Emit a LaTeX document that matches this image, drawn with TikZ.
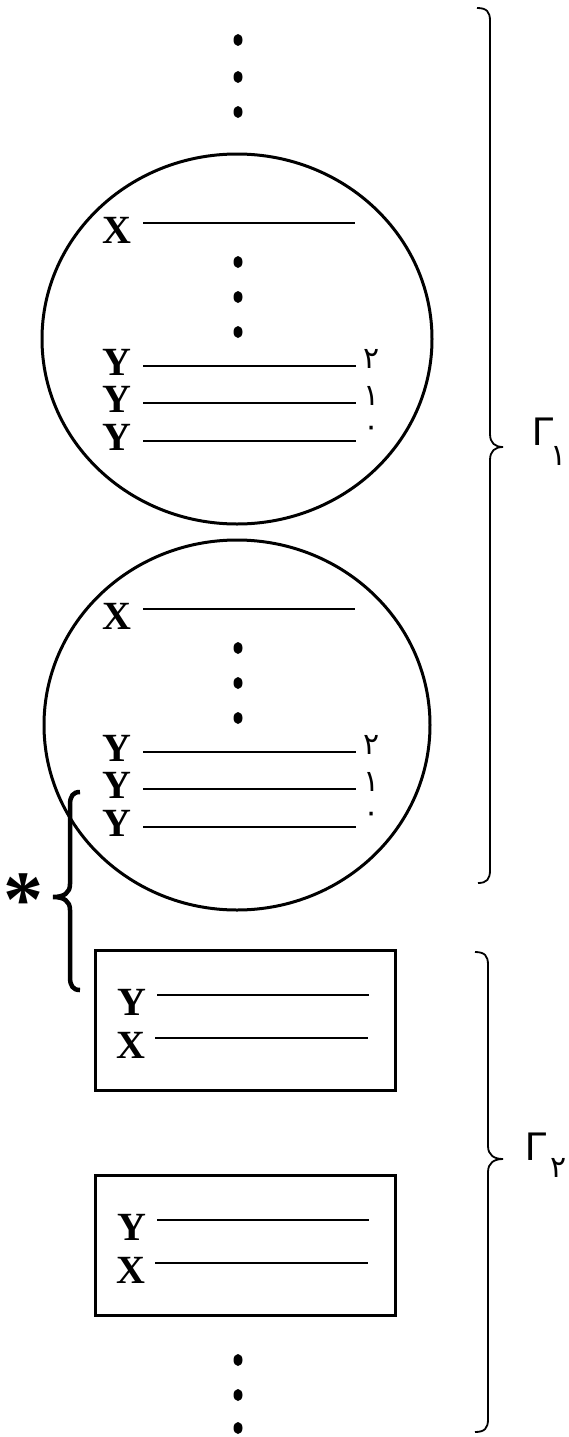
\documentclass[tikz,border=0pt]{standalone}
\usepackage{fontspec}
\setmainfont{Liberation Serif}
\newfontfamily\arabicfont[Script=Arabic]{DejaVu Sans}
\newfontfamily\gfont{Liberation Sans}
\usetikzlibrary{shapes.geometric}
\TeXXeTstate=1
\begin{document}
\begin{tikzpicture}[x=1pt,y=-1pt,
  lbl/.style={font=\fontsize{40}{40}\selectfont\bfseries, inner sep=0, anchor=base},
  blank/.style={line width=1.7pt},
  ring/.style={draw, ellipse, line width=3pt, inner sep=0},
  card/.style={draw, line width=3pt},
  dotn/.style={ellipse, fill, inner sep=0, minimum width=9pt, minimum height=12pt},
  sub/.style={font=\arabicfont\fontsize{30}{30}\selectfont, inner sep=0},
  gam/.style={font=\gfont\fontsize{40}{40}\selectfont, inner sep=0},
  brace/.style={line width=1.8pt},
  lbrace/.style={line width=4.5pt}
]
\useasboundingbox (0,0) rectangle (568,1437);
% top dots
\node[dotn] (t1) at (238,40) {};
\node[dotn] (t2) at (238,77) {};
\node[dotn] (t3) at (238,112) {};
% circle 1
\node[ring, minimum width=390pt, minimum height=370pt] (c1) at (237,339) {};
\node[lbl] (c1x) at (117,243) {X};
\draw[blank] (143,223) -- (355,223);
\node[dotn] (c1d1) at (238,262) {};
\node[dotn] (c1d2) at (238,297) {};
\node[dotn] (c1d3) at (238,332) {};
\node[lbl] (c1y2) at (117,375) {Y};
\node[lbl] (c1y1) at (117,412) {Y};
\node[lbl] (c1y0) at (117,450) {Y};
\draw[blank] (143,366) -- (356,366);
\draw[blank] (143,403) -- (356,403);
\draw[blank] (143,441) -- (356,441);
\node[sub] (c1s2) at (372,359) {\beginR ٢\endR};
\node[sub] (c1s1) at (372,396) {\beginR ١\endR};
\node[sub] (c1s0) at (372,431) {\beginR ٠\endR};
% circle 2
\node[ring, minimum width=386pt, minimum height=370pt] (c2) at (237,725) {};
\node[lbl] (c2x) at (117,629) {X};
\draw[blank] (143,609) -- (355,609);
\node[dotn] (c2d1) at (238,648) {};
\node[dotn] (c2d2) at (238,683) {};
\node[dotn] (c2d3) at (238,718) {};
\node[lbl] (c2y2) at (117,761) {Y};
\node[lbl] (c2y1) at (117,798) {Y};
\node[lbl] (c2y0) at (117,836) {Y};
\draw[blank] (143,752) -- (356,752);
\draw[blank] (143,789) -- (356,789);
\draw[blank] (143,827) -- (356,827);
\node[sub] (c2s2) at (372,745) {\beginR ٢\endR};
\node[sub] (c2s1) at (372,782) {\beginR ١\endR};
\node[sub] (c2s0) at (372,817) {\beginR ٠\endR};
% box 1
\draw[card] (95,950) rectangle (395,1090);
\node[lbl] (b1y) at (132,1015) {Y};
\node[lbl] (b1x) at (131,1058) {X};
\draw[blank] (157,995) -- (369,995);
\draw[blank] (155,1038) -- (368,1038);
% box 2
\draw[card] (95,1175) rectangle (395,1315);
\node[lbl] (b2y) at (132,1240) {Y};
\node[lbl] (b2x) at (131,1283) {X};
\draw[blank] (157,1220) -- (369,1220);
\draw[blank] (155,1263) -- (368,1263);
% bottom dots
\node[dotn] (u1) at (238,1360) {};
\node[dotn] (u2) at (238,1395) {};
\node[dotn] (u3) at (238,1428) {};
% right brace 1
\draw[brace] (477,8) .. controls (487,8) and (490,12) .. (490,21) -- (490,434)
  .. controls (490,443) and (495,447) .. (503,447)
  .. controls (495,447) and (490,451) .. (490,460) -- (490,870)
  .. controls (490,879) and (487,883) .. (478,883);
\node[gam, anchor=base west] (g1) at (532,445) {Γ};
\node[sub, anchor=north east] (g1s) at (567,446) {\beginR ١\endR};
% right brace 2
\draw[brace] (475,952) .. controls (485,952) and (488,956) .. (488,965) -- (488,1146)
  .. controls (488,1155) and (494,1159) .. (503,1159)
  .. controls (494,1159) and (488,1163) .. (488,1172) -- (488,1419)
  .. controls (488,1428) and (485,1432) .. (475,1432);
\node[gam, anchor=base west] (g2) at (525,1160) {Γ};
\node[sub, anchor=north west] (g2s) at (550,1158) {\beginR ٢\endR};
% left brace
\draw[lbrace] (80,792) .. controls (73,792) and (70,796) .. (70,805) -- (70,884)
  .. controls (70,893) and (64,897) .. (53,897)
  .. controls (64,897) and (70,901) .. (70,910) -- (70,977)
  .. controls (70,986) and (73,990) .. (80,990);
\node[font=\fontsize{80}{80}\selectfont\bfseries, inner sep=0] (star) at (23,900) {*};
\end{tikzpicture}
\end{document}
